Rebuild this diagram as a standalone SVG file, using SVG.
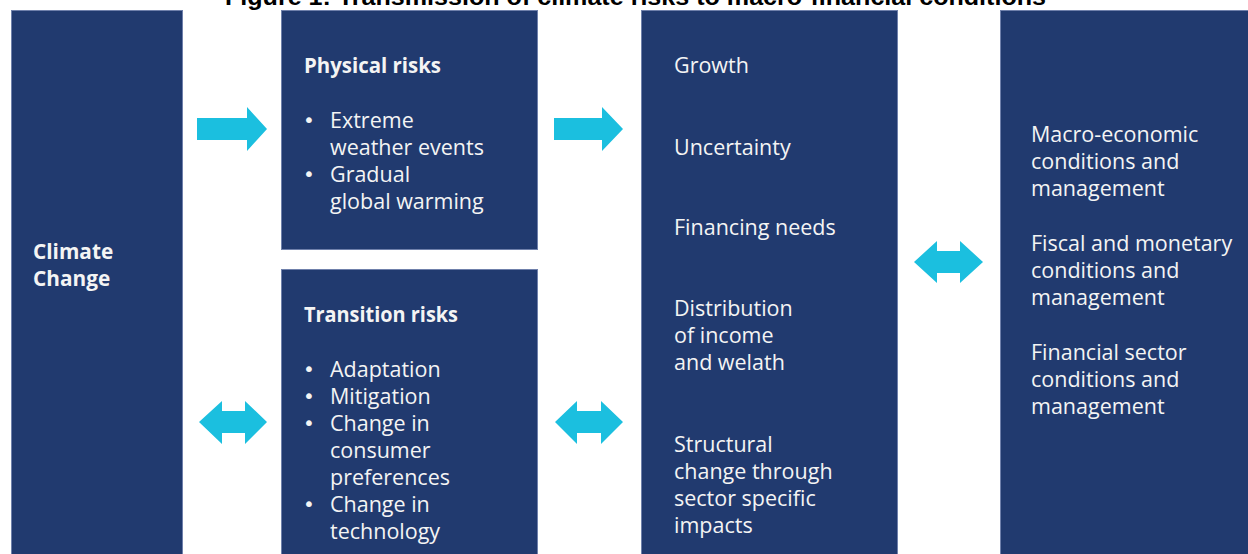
<svg xmlns="http://www.w3.org/2000/svg" width="1248" height="554" viewBox="0 0 1248 554">
  <style>
    .box { fill: #213a6f; stroke: #6f80ab; stroke-width: 1; }
    .arrow { fill: #1bbfdf; }
    .t { font-family: "Open Sans", "Noto Sans", sans-serif; font-size: 21.5px; fill: #f4f4f4; }
    .b { font-weight: bold; font-size: 20.8px; }
    .dot { font-family: "DejaVu Sans", sans-serif; font-size: 20px; fill: #f4f4f4; }
    .title { font-family: "Liberation Sans", Arial, sans-serif; font-weight: bold; font-size: 23px; fill: #000; }
  </style>

  <rect x="0" y="0" width="1248" height="554" fill="#ffffff"/>

  <!-- heading, cropped at the top edge -->
  <text class="title" x="225" y="5" textLength="821" lengthAdjust="spacingAndGlyphs">Figure 1: Transmission of climate risks to macro-financial conditions</text>

  <g id="climate-change">
    <rect class="box" x="11.5" y="10.5" width="171" height="560"/>
    <text class="t b" x="33" y="259">Climate</text>
    <text class="t b" x="33" y="286">Change</text>
  </g>

  <g id="physical-risks">
    <rect class="box" x="281.5" y="10.5" width="256" height="239"/>
    <text class="t b" x="304" y="73" textLength="137" lengthAdjust="spacingAndGlyphs">Physical risks</text>
    <text class="dot" x="303" y="127">•</text>
    <text class="t" x="330" y="128">Extreme</text>
    <text class="t" x="330" y="155">weather events</text>
    <text class="dot" x="303" y="181">•</text>
    <text class="t" x="330" y="182">Gradual</text>
    <text class="t" x="330" y="209">global warming</text>
  </g>

  <g id="transition-risks">
    <rect class="box" x="281.5" y="269.5" width="256" height="300"/>
    <text class="t b" x="304" y="322" textLength="154" lengthAdjust="spacingAndGlyphs">Transition risks</text>
    <text class="dot" x="303" y="376">•</text>
    <text class="t" x="330" y="377">Adaptation</text>
    <text class="dot" x="303" y="403">•</text>
    <text class="t" x="330" y="404">Mitigation</text>
    <text class="dot" x="303" y="430">•</text>
    <text class="t" x="330" y="431">Change in</text>
    <text class="t" x="330" y="458">consumer</text>
    <text class="t" x="330" y="485">preferences</text>
    <text class="dot" x="303" y="511">•</text>
    <text class="t" x="330" y="512">Change in</text>
    <text class="t" x="330" y="539">technology</text>
  </g>

  <g id="channels">
    <rect class="box" x="641.5" y="10.5" width="256" height="560"/>
    <text class="t" x="674" y="73">Growth</text>
    <text class="t" x="674" y="155">Uncertainty</text>
    <text class="t" x="674" y="235">Financing needs</text>
    <text class="t" x="674" y="316">Distribution</text>
    <text class="t" x="674" y="343">of income</text>
    <text class="t" x="674" y="370">and welath</text>
    <text class="t" x="674" y="452">Structural</text>
    <text class="t" x="674" y="479">change through</text>
    <text class="t" x="674" y="506">sector specific</text>
    <text class="t" x="674" y="533">impacts</text>
  </g>

  <g id="macro-financial">
    <rect class="box" x="1000.5" y="10.5" width="260" height="560"/>
    <text class="t" x="1031" y="142">Macro-economic</text>
    <text class="t" x="1031" y="169">conditions and</text>
    <text class="t" x="1031" y="196">management</text>
    <text class="t" x="1031" y="251">Fiscal and monetary</text>
    <text class="t" x="1031" y="278">conditions and</text>
    <text class="t" x="1031" y="305">management</text>
    <text class="t" x="1031" y="360">Financial sector</text>
    <text class="t" x="1031" y="387">conditions and</text>
    <text class="t" x="1031" y="414">management</text>
  </g>

  <g id="connectors">
    <polygon class="arrow" points="197,118 247,118 247,107 267,129 247,151 247,140 197,140"/>
    <polygon class="arrow" points="554,118 602,118 602,107 623,129 602,151 602,140 554,140"/>
    <polygon class="arrow" points="199,422 222,401 222,411 245,411 245,401 267,422 245,444 245,433 222,433 222,444"/>
    <polygon class="arrow" points="555,422 577,401 577,411 601,411 601,401 623,422 601,444 601,433 577,433 577,444"/>
    <polygon class="arrow" points="914,262 937,241 937,251 960,251 960,241 983,262 960,283 960,273 937,273 937,283"/>
  </g>
</svg>
